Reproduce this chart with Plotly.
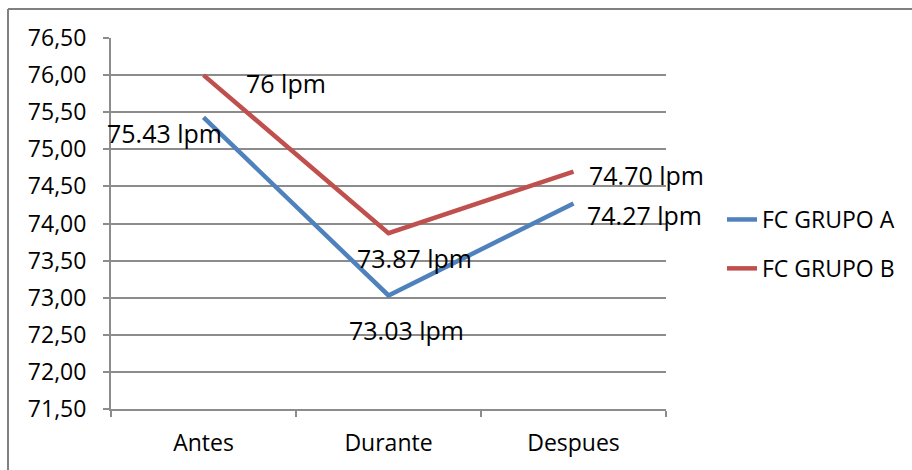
import plotly.graph_objects as go

categories = ["Antes", "Durante", "Despues"]
grupo_a = [75.43, 73.03, 74.27]
grupo_b = [76.00, 73.87, 74.70]
labels_a = ["75.43 lpm", "73.03 lpm", "74.27 lpm"]
labels_b = ["76 lpm", "73.87 lpm", "74.70 lpm"]
series_names = ["FC GRUPO A", "FC GRUPO B"]
y_ticks = [71.5, 72.0, 72.5, 73.0, 73.5, 74.0, 74.5, 75.0, 75.5, 76.0, 76.5]

# label offsets (pixels) - style only
shift_a = [(-39, -16), (18, -35), (71, -12)]
shift_b = [(82, -8), (26, -25), (73, -3)]

BLUE = "#4F81BD"
RED = "#C0504D"
GRID = "#8C8C8C"
FONT = "Open Sans"

fig = go.Figure()
fig.add_trace(go.Scatter(x=categories, y=grupo_a, mode="lines", name=series_names[0],
                         line=dict(color=BLUE, width=4.5), legendgroup="a"))
fig.add_trace(go.Scatter(x=categories, y=grupo_b, mode="lines", name=series_names[1],
                         line=dict(color=RED, width=4.5), legendgroup="b"))

anns = []
for cat, val, lab, (dx, dy) in zip(categories, grupo_a, labels_a, shift_a):
    anns.append(dict(x=cat, y=val, text=lab, showarrow=False, xshift=dx, yshift=dy,
                     font=dict(family=FONT, size=25, color="#000000")))
for cat, val, lab, (dx, dy) in zip(categories, grupo_b, labels_b, shift_b):
    anns.append(dict(x=cat, y=val, text=lab, showarrow=False, xshift=dx, yshift=dy,
                     font=dict(family=FONT, size=25, color="#000000")))

W, H = 912, 470
L, R, T, B = 111, W - 666, 38, H - 409
pw, ph = W - L - R, H - T - B
def px(xp):
    return (xp - L) / pw
def py(yp):
    return (H - B - yp) / ph

shapes = [
    dict(type="line", xref="paper", yref="paper", x0=px(8), x1=px(W + 5), y0=py(9), y1=py(9),
         line=dict(color="#808080", width=2)),
    dict(type="line", xref="paper", yref="paper", x0=px(8), x1=px(8), y0=py(9), y1=py(H + 5),
         line=dict(color="#808080", width=2)),
]

fig.update_layout(
    width=W, height=H,
    margin=dict(l=L, r=R, t=T, b=B),
    paper_bgcolor="white", plot_bgcolor="white",
    separators=",.",
    font=dict(family=FONT, size=23, color="#000000"),
    showlegend=True,
    legend=dict(x=px(722), y=py(198), xanchor="left", yanchor="top",
                font=dict(family=FONT, size=23, color="#000000"),
                tracegroupgap=16, bgcolor="rgba(0,0,0,0)"),
    annotations=anns,
    shapes=shapes,
    xaxis=dict(type="category", range=[-0.5, 2.5], showgrid=False,
               showline=True, linecolor=GRID, linewidth=2,
               ticks="outside", tickson="boundaries", ticklen=6, tickcolor=GRID, tickwidth=2,
               tickfont=dict(family=FONT, size=23), ticklabelstandoff=12),
    yaxis=dict(range=[71.5, 76.5], tickvals=y_ticks, tickformat=".2f",
               showgrid=True, gridcolor=GRID, gridwidth=1.5,
               showline=True, linecolor=GRID, linewidth=2,
               ticks="outside", ticklen=6, tickcolor=GRID, tickwidth=2,
               tickfont=dict(family=FONT, size=23), zeroline=False,
               ticklabelstandoff=12),
)

fig.write_html("out.html")
